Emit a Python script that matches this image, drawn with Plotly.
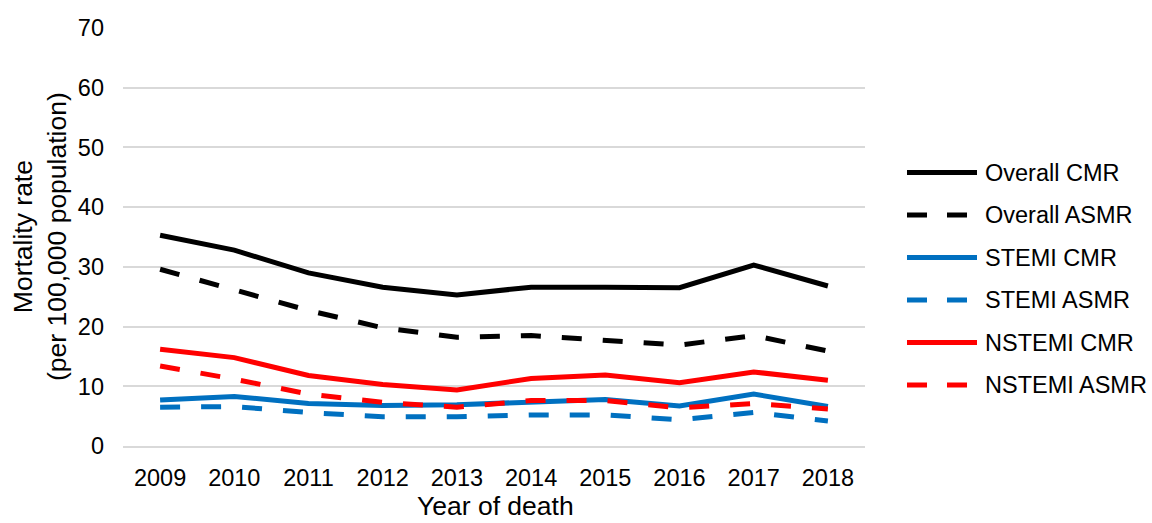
import plotly.graph_objects as go

# Mortality rates per 100,000 population by year of death
years = [2009, 2010, 2011, 2012, 2013, 2014, 2015, 2016, 2017, 2018]
overall_cmr = [35.3, 32.8, 29.0, 26.6, 25.3, 26.6, 26.6, 26.5, 30.3, 26.8]
overall_asmr = [29.6, 26.1, 22.7, 19.8, 18.2, 18.5, 17.6, 16.9, 18.5, 15.9]
stemi_cmr = [7.7, 8.3, 7.1, 6.8, 6.9, 7.4, 7.8, 6.7, 8.7, 6.6]
stemi_asmr = [6.5, 6.6, 5.6, 4.9, 4.9, 5.2, 5.2, 4.4, 5.6, 4.2]
nstemi_cmr = [16.2, 14.8, 11.8, 10.3, 9.4, 11.3, 11.9, 10.6, 12.4, 11.0]
nstemi_asmr = [13.4, 11.2, 8.7, 7.3, 6.5, 7.6, 7.6, 6.4, 7.1, 6.2]

series_names = ["Overall CMR", "Overall ASMR", "STEMI CMR",
                "STEMI ASMR", "NSTEMI CMR", "NSTEMI ASMR"]
series_values = [overall_cmr, overall_asmr, stemi_cmr,
                 stemi_asmr, nstemi_cmr, nstemi_asmr]
series_colors = ["#000000", "#000000", "#0070C0",
                 "#0070C0", "#FF0000", "#FF0000"]
series_dash = ["solid", "20px,21px", "solid", "20px,21px", "solid", "20px,21px"]

FONT = "Arial, 'Liberation Sans', sans-serif"
GRID = "#D9D9D9"
TICK_SIZE = 23.5
TITLE_SIZE = 26.5

W, H = 1152, 523
L, R, T, B = 123, 287, 28, 77
plot_w = W - L - R
plot_h = H - T - B

fig = go.Figure()
for name, vals, col, dash in zip(series_names, series_values, series_colors, series_dash):
    fig.add_trace(go.Scatter(
        x=years, y=vals, name=name, mode="lines",
        line=dict(color=col, width=5, dash=dash),
        showlegend=False, hoverinfo="x+y+name",
    ))

# Legend drawn to the right of the plot area
leg_line_x0, leg_line_x1, leg_text_x = 907, 977, 983
leg_y0, leg_step = 172.5, 42.5
for i, (name, col, dash) in enumerate(zip(series_names, series_colors, series_dash)):
    py = leg_y0 + i * leg_step
    yp = (H - B - py) / plot_h
    fig.add_shape(type="line", xref="paper", yref="paper",
                  x0=(leg_line_x0 - L) / plot_w, x1=(leg_line_x1 - L) / plot_w,
                  y0=yp, y1=yp,
                  line=dict(color=col, width=5,
                            dash="solid" if dash == "solid" else "20px,20px"))
    fig.add_annotation(xref="paper", yref="paper",
                       x=(leg_text_x - L) / plot_w, y=yp,
                       text=name, showarrow=False, xanchor="left", yanchor="middle",
                       font=dict(family=FONT, size=TICK_SIZE, color="#000000"))

# Axis titles
fig.add_annotation(xref="paper", yref="paper",
                   x=(495 - L) / plot_w, y=(H - B - 522.5) / plot_h,
                   text="Year of death", showarrow=False,
                   xanchor="center", yanchor="bottom",
                   font=dict(family=FONT, size=TITLE_SIZE, color="#000000"))
fig.add_annotation(xref="paper", yref="paper",
                   x=(40 - L) / plot_w, y=0.5,
                   text="Mortality rate<br>(per 100,000 population)", showarrow=False,
                   textangle=-90, xanchor="center", yanchor="middle",
                   font=dict(family=FONT, size=TITLE_SIZE, color="#000000"))

fig.update_layout(
    width=W, height=H,
    margin=dict(l=L, r=R, t=T, b=B, pad=0),
    paper_bgcolor="white", plot_bgcolor="white",
    font=dict(family=FONT, size=TICK_SIZE, color="#000000"),
    xaxis=dict(
        range=[2008.5, 2018.5], tickvals=years, ticktext=[str(y) for y in years],
        showgrid=False, zeroline=False, showline=True, linecolor=GRID, linewidth=1.5,
        ticks="", ticklabelstandoff=10,
        tickfont=dict(family=FONT, size=TICK_SIZE, color="#000000"),
        fixedrange=True,
    ),
    yaxis=dict(
        range=[0, 70], dtick=10, tick0=0,
        showgrid=True, gridcolor=GRID, gridwidth=1.5,
        zeroline=False, showline=False, ticks="", ticklabelstandoff=18,
        tickfont=dict(family=FONT, size=TICK_SIZE, color="#000000"),
        fixedrange=True,
    ),
)

fig.write_html("out.html")
